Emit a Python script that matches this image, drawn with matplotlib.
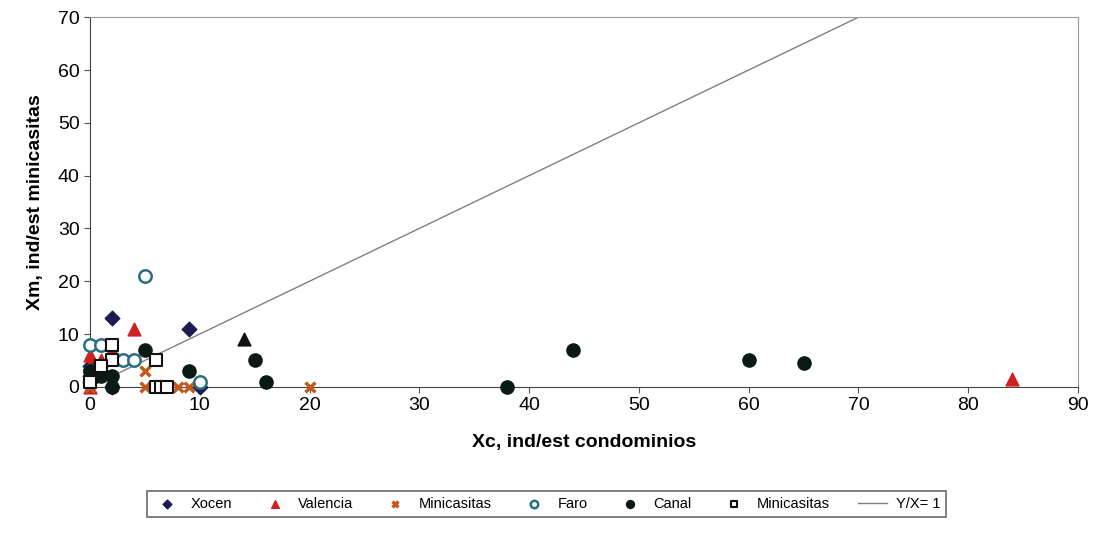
import numpy as np
import matplotlib.pyplot as plt

plt.rcParams['font.family'] = ['Liberation Sans', 'DejaVu Sans']

# data
xocen_x = [0, 0, 1, 2, 9, 10, 2, 0]
xocen_y = [4, 1, 3, 13, 11, 0, 0, 2]
valencia_x = [0, 0, 0, 2, 4, 84, 1, 0]
valencia_y = [6, 0, 2, 7, 11, 1.5, 5, 4]
valencia_dark_x = [14]
valencia_dark_y = [9]
mini1_x = [5, 5, 8, 9, 20, 2, 0]
mini1_y = [3, 0, 0, 0, 0, 1, 0]
faro_x = [5, 0, 1, 3, 4, 10, 0]
faro_y = [21, 8, 8, 5, 5, 1, 3]
canal_x = [5, 9, 15, 16, 38, 44, 60, 65, 2, 0, 1, 2]
canal_y = [7, 3, 5, 1, 0, 7, 5, 4.5, 2, 3, 2, 0]
mini2_x = [2, 6, 6, 6.5, 7, 2, 0, 1]
mini2_y = [8, 5, 0, 0, 0, 5, 1, 4]
line_x = [0, 90]

fig = plt.figure(figsize=(10.93, 5.55), dpi=100)
ax = fig.add_axes([0.0823, 0.303, 0.904, 0.666])

ax.plot(line_x, line_x, color="#808080", lw=1, label="Y/X= 1", zorder=1)
kw = dict(clip_on=False, zorder=3)
ax.scatter(xocen_x, xocen_y, marker="D", s=55, color="#1c1c50", label="Xocen", **kw)
ax.scatter(valencia_x, valencia_y, marker="^", s=85, color="#d02020", label="Valencia", **kw)
ax.scatter(valencia_dark_x, valencia_dark_y, marker="^", s=85, color="#111111", **kw)
ax.scatter(mini1_x, mini1_y, marker="x", s=50, color="#c05a1a", linewidths=2.5, label="Minicasitas", **kw)
ax.scatter(faro_x, faro_y, marker="o", s=80, facecolors="white", edgecolors="#2a6f80", linewidths=1.8, label="Faro", **kw)
ax.scatter(canal_x, canal_y, marker="o", s=90, color="#0c1a14", label="Canal", **kw)
ax.scatter(mini2_x, mini2_y, marker="s", s=70, facecolors="white", edgecolors="#111111", linewidths=1.5, label="Minicasitas", **kw)

ax.set_xlim(0, 90)
ax.set_ylim(0, 70)
ax.set_xticks(np.arange(0, 91, 10))
ax.set_yticks(np.arange(0, 71, 10))
ax.tick_params(labelsize=14, length=4, color="#555555")
for s in ax.spines.values():
    s.set_color("#999999")
ax.spines['bottom'].set_color("#444444")
ax.spines['left'].set_color("#444444")

ax.set_xlabel("Xc, ind/est condominios", fontsize=14, fontweight="bold", labelpad=14)
ax.set_ylabel("Xm, ind/est minicasitas", fontsize=14, fontweight="bold", labelpad=10)

h, l = ax.get_legend_handles_labels()
order = [1, 2, 3, 4, 5, 6, 0]
leg = fig.legend([h[i] for i in order], [l[i] for i in order], loc="center", bbox_to_anchor=(0.5, 0.092),
                 ncol=7, fontsize=10.5, frameon=True, fancybox=False, edgecolor="#444444",
                 markerscale=0.6, handlelength=2.0, handletextpad=0.6, columnspacing=1.9)
leg.get_frame().set_linewidth(1.2)

plt.savefig("out.png")
